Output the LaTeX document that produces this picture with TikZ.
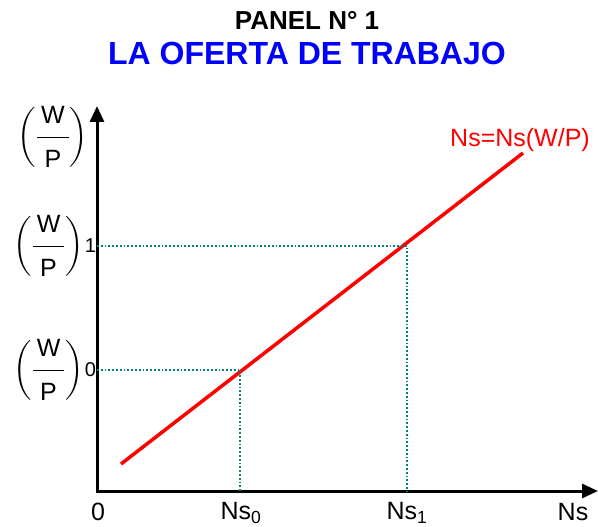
\documentclass[tikz,border=0pt]{standalone}
\usepackage{amsmath}
\usepackage{fontspec}
\setmainfont{Liberation Sans}
\usetikzlibrary{positioning}
\usetikzlibrary{arrows.meta}
\definecolor{dotteal}{RGB}{0,128,128}
\definecolor{curvered}{RGB}{255,0,0}
\definecolor{titleblue}{RGB}{0,0,255}
\newcommand{\wpfrac}{\left(\dfrac{\rule[-10pt]{0pt}{10pt}\hspace{4pt}\text{W}\hspace{4pt}}{\rule{0pt}{27pt}\text{P}}\right)}

\begin{document}
\begin{tikzpicture}[x=1pt, y=-1pt,
 every node/.style={inner sep=0pt, outer sep=0pt},
 axis/.style={line width=3pt, -{Triangle[length=16pt, width=14pt]}},
 guide/.style={dotteal, line width=1.8pt, dotted},
 lbl/.style={font=\fontsize{25}{28}\selectfont},
 wp/.style={font=\fontsize{25}{28}\selectfont}]
 \useasboundingbox (0,0) rectangle (598,527);

 \node[font=\fontsize{26}{28}\selectfont\bfseries] (panel) at (307,20) {PANEL N° 1};
 \node[font=\fontsize{32}{34}\selectfont\bfseries, text=titleblue] (title) at (307,53) {LA OFERTA DE TRABAJO};

 \coordinate (O) at (97,491);
 \coordinate (ytop) at (97,106);
 \coordinate (xend) at (598,491);
 \draw[axis] ([yshift=1.5pt]O) -- (ytop);
 \draw[axis] ([xshift=-1.5pt]O) -- (xend);

 % oferta de trabajo
 \coordinate (s0) at (121,464);
 \coordinate (s1) at (523,153);
 \draw[curvered, line width=3.5pt] (s0) -- (s1);
 \node[lbl, text=curvered] (curve) at (520,140) {Ns=Ns(W/P)};

 \coordinate (P0) at (240,370);
 \coordinate (P1) at (407,246);
 \coordinate (N0) at (240,491);
 \coordinate (N1) at (407,491);
 \coordinate (W0) at (97,370);
 \coordinate (W1) at (97,246);
 \draw[guide] (W0) -- (P0) -- (N0);
 \draw[guide] (W1) -- (P1) -- (N1);

 \node[lbl] (zero) at (98,512) {0};
 \node[lbl] (ns0) at (241,513) {Ns$_{\text{0}}$};
 \node[lbl] (ns1) at (407,513) {Ns$_{\text{1}}$};
 \node[lbl] (ns) at (573,512) {Ns};

 \node[wp] (wp) at (53,137) {$\wpfrac$};
 \node[wp, anchor=east] (wp1) at (96,246) {$\wpfrac$\hspace{1pt}{\fontsize{20}{22}\selectfont 1}};
 \node[wp, anchor=east] (wp0) at (96,370) {$\wpfrac$\hspace{1pt}{\fontsize{20}{22}\selectfont 0}};
\end{tikzpicture}
\end{document}
